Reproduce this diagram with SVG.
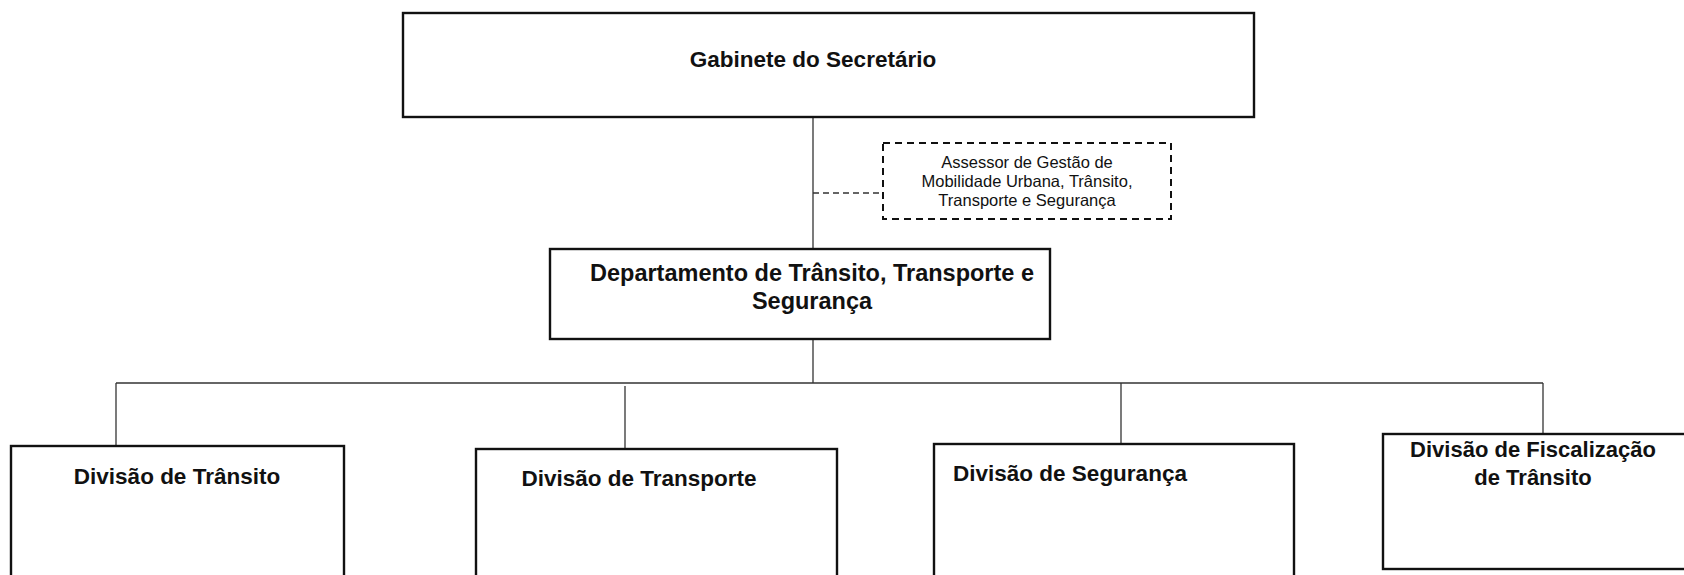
<svg xmlns="http://www.w3.org/2000/svg" width="1684" height="575" viewBox="0 0 1684 575">
<style>
.box{fill:#fff;stroke:#111;stroke-width:2.4}
.dash{fill:#fff;stroke:#111;stroke-width:2;stroke-dasharray:7,5}
.ln{stroke:#333;stroke-width:1.3;fill:none}
.dl{stroke:#333;stroke-width:1.3;stroke-dasharray:6,4;fill:none}
.t{font-family:"Liberation Sans",Arial,sans-serif;font-weight:bold;font-size:22.5px;fill:#111;text-anchor:middle;dominant-baseline:central}
.s{font-family:"Liberation Sans",Arial,sans-serif;font-size:16.5px;fill:#111;text-anchor:middle;dominant-baseline:central}
</style>
<rect width="1684" height="575" fill="#fff"/>
<g id="connectors">
<line class="ln" x1="813" y1="117" x2="813" y2="249"/>
<line class="dl" x1="813" y1="193" x2="883" y2="193"/>
<line class="ln" x1="813" y1="339" x2="813" y2="383"/>
<line class="ln" x1="116" y1="383" x2="1543" y2="383"/>
<line class="ln" x1="116" y1="383" x2="116" y2="446"/>
<line class="ln" x1="625" y1="386" x2="625" y2="449"/>
<line class="ln" x1="1121" y1="383" x2="1121" y2="444"/>
<line class="ln" x1="1543" y1="383" x2="1543" y2="434"/>
</g>
<g id="gabinete">
<rect class="box" x="403" y="13" width="851" height="104"/>
<text class="t" x="813" y="59">Gabinete do Secretário</text>
</g>
<g id="assessor">
<rect class="dash" x="883" y="143" width="288" height="76"/>
<text class="s" x="1027" y="162">Assessor de Gestão de</text>
<text class="s" x="1027" y="181">Mobilidade Urbana, Trânsito,</text>
<text class="s" x="1027" y="200">Transporte e Segurança</text>
</g>
<g id="departamento">
<rect class="box" x="550" y="249" width="500" height="90"/>
<text class="t" x="812" y="273" style="font-size:23.5px">Departamento de Trânsito, Transporte e</text>
<text class="t" x="812" y="301" style="font-size:23.5px">Segurança</text>
</g>
<g id="div-transito">
<rect class="box" x="11" y="446" width="333" height="140"/>
<text class="t" x="177" y="476">Divisão de Trânsito</text>
</g>
<g id="div-transporte">
<rect class="box" x="476" y="449" width="361" height="140"/>
<text class="t" x="639" y="478">Divisão de Transporte</text>
</g>
<g id="div-seguranca">
<rect class="box" x="934" y="444" width="360" height="140"/>
<text class="t" x="1070" y="473">Divisão de Segurança</text>
</g>
<g id="div-fiscalizacao">
<rect class="box" x="1383" y="434" width="320" height="135"/>
<text class="t" x="1533" y="449" style="font-size:22px">Divisão de Fiscalização</text>
<text class="t" x="1533" y="477" style="font-size:22px">de Trânsito</text>
</g>
</svg>
